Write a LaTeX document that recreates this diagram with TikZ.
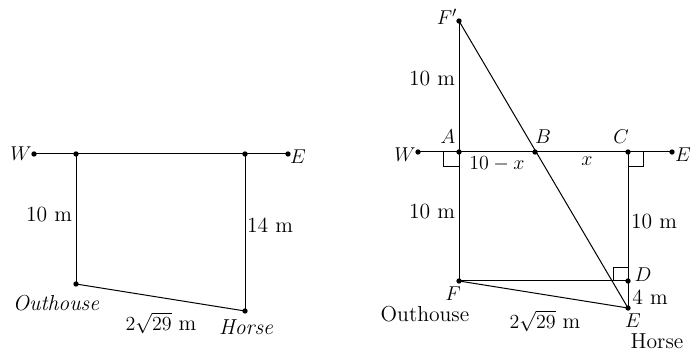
\documentclass[tikz,border=0pt]{standalone}
\usepackage{tikz}
\usetikzlibrary{positioning,calc}

\begin{document}
\begin{tikzpicture}[
      x=0.6pt,y=-0.6pt,
      font=\fontsize{13}{15}\selectfont,
      dot/.style={circle,fill=black,inner sep=0pt,minimum size=3.2pt},
      seg/.style={draw=black,line width=0.6pt},
      lbl/.style={inner sep=0pt},
      rightang/.style={draw=black,line width=0.5pt}
    ]
    \useasboundingbox (0,0) rectangle (698,352);
    % left sketch
    \node[dot] (w1) at (34,154) {};
    \node[dot] (a1) at (76,154) {};
    \node[dot] (b1) at (245,154) {};
    \node[dot] (e1) at (288,154) {};
    \node[dot] (out1) at (76,284) {};
    \node[dot] (hor1) at (245,311) {};
    \draw[seg] (w1.center) -- (e1.center);
    \draw[seg] (a1.center) -- (out1.center);
    \draw[seg] (b1.center) -- (hor1.center);
    \draw[seg] (out1.center) -- (hor1.center);
    \node[lbl] at (21,154) {$W$};
    \node[lbl] at (298,157) {$E$};
    \node[lbl] at (49,215) {10 m};
    \node[lbl] at (270,225) {14 m};
    \node[lbl] at (56,303) {\itshape Outhouse};
    \node[lbl] at (161,323) {$2\sqrt{29}$ m};
    \node[lbl] at (246,327) {\itshape Horse};
    % right sketch
    \node[dot] (w2) at (418,152) {};
    \node[dot] (a2) at (459,152) {};
    \node[dot] (b2) at (535,152) {};
    \node[dot] (c2) at (628,152) {};
    \node[dot] (e2) at (672,152) {};
    \node[dot] (fp) at (459,21) {};
    \node[dot] (f2) at (459,281) {};
    \node[dot] (d2) at (628,281) {};
    \node[dot] (hor2) at (628,308) {};
    \draw[seg] (w2.center) -- (e2.center);
    \draw[seg] (fp.center) -- (f2.center);
    \draw[seg] (c2.center) -- (hor2.center);
    \draw[seg] (f2.center) -- (d2.center);
    \draw[seg] (f2.center) -- (hor2.center);
    \draw[seg] (fp.center) -- (hor2.center);
    \draw[rightang] (a2.center) ++(-16,0) -- ++(0,14) -- ++(16,0);
    \draw[rightang] (c2.center) ++(0,14) -- ++(15,0) -- ++(0,-14);
    \draw[rightang] (d2.center) ++(-15,0) -- ++(0,-14) -- ++(15,0);
    \node[lbl] at (447,17) {$F'$};
    \node[lbl] at (448,137) {$A$};
    \node[lbl] at (543,137) {$B$};
    \node[lbl] at (621,137) {$C$};
    \node[lbl] at (405,155) {$W$};
    \node[lbl] at (683,155) {$E$};
    \node[lbl] at (432,79) {10 m};
    \node[lbl] at (497,164) {$10-x$};
    \node[lbl] at (587,161) {$x$};
    \node[lbl] at (432,212) {10 m};
    \node[lbl] at (654,222) {10 m};
    \node[lbl] at (643,275) {$D$};
    \node[lbl] at (650,297) {4 m};
    \node[lbl] at (453,294) {$F$};
    \node[lbl] at (425,314) {Outhouse};
    \node[lbl] at (545,321) {$2\sqrt{29}$ m};
    \node[lbl] at (633,321) {$E$};
    \node[lbl] at (657,341) {Horse};
  \end{tikzpicture}
\end{document}
